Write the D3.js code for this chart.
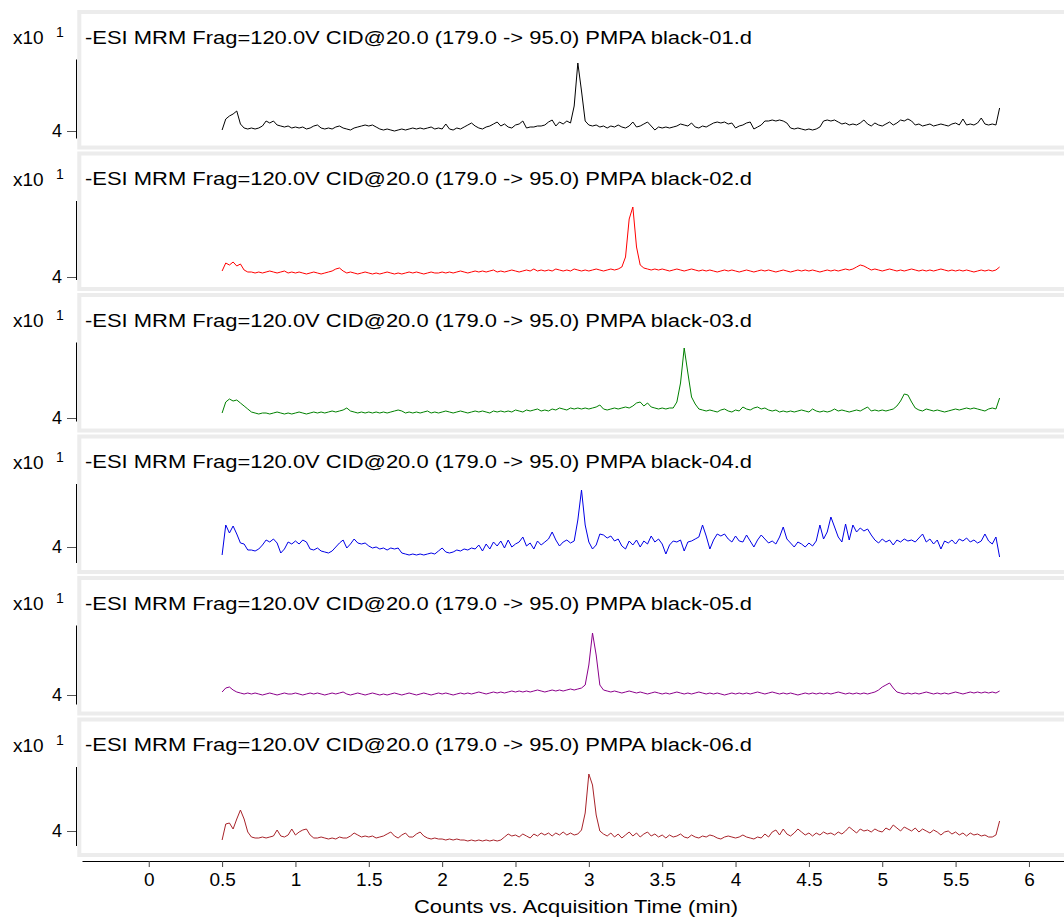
<!DOCTYPE html>
<html><head><meta charset="utf-8">
<script src="https://cdn.jsdelivr.net/npm/d3@7"></script>
<style>
body{margin:0;background:#fff;}
svg{display:block;font-family:"Liberation Sans",Arial,sans-serif;}
</style>
</head><body>
<svg id="chart" width="1064" height="920"></svg>
<script>
// ---------- DATA ----------
const titles = [
  "-ESI MRM Frag=120.0V CID@20.0 (179.0 -> 95.0) PMPA black-01.d",
  "-ESI MRM Frag=120.0V CID@20.0 (179.0 -> 95.0) PMPA black-02.d",
  "-ESI MRM Frag=120.0V CID@20.0 (179.0 -> 95.0) PMPA black-03.d",
  "-ESI MRM Frag=120.0V CID@20.0 (179.0 -> 95.0) PMPA black-04.d",
  "-ESI MRM Frag=120.0V CID@20.0 (179.0 -> 95.0) PMPA black-05.d",
  "-ESI MRM Frag=120.0V CID@20.0 (179.0 -> 95.0) PMPA black-06.d"
];
const timeStart = 0.5;   // min
const timeStep = 0.025;  // min, acquisition sampling
const xTickValues = [0, 0.5, 1, 1.5, 2, 2.5, 3, 3.5, 4, 4.5, 5, 5.5, 6];
const yTickValues = [4];
const yExponent = "1";
const xAxisTitle = "Counts vs. Acquisition Time (min)";

// counts (x10^1), one value per sampling step from 0.5 to 5.8 min
const black01 = [
4.01,4.12,4.15,4.17,4.20,4.07,4.03,4.02,4.03,4.02,
4.03,4.05,4.10,4.08,4.10,4.06,4.05,4.04,4.05,4.03,
4.04,4.03,4.04,4.02,4.03,4.05,4.06,4.03,4.02,4.03,
4.02,4.04,4.05,4.03,4.02,4.01,4.03,4.04,4.05,4.06,
4.05,4.06,4.04,4.02,4.01,4.02,4.01,4.00,4.01,4.02,
4.01,4.02,4.03,4.02,4.03,4.02,4.03,4.04,4.02,4.03,
4.02,4.07,4.02,4.01,4.03,4.02,4.04,4.06,4.08,4.05,
4.03,4.02,4.04,4.05,4.07,4.09,4.05,4.07,4.04,4.03,
4.06,4.07,4.10,4.03,4.04,4.04,4.05,4.05,4.06,4.09,
4.11,4.05,4.09,4.07,4.10,4.08,4.25,4.68,4.40,4.10,
4.06,4.05,4.06,4.04,4.05,4.03,4.05,4.04,4.06,4.04,
4.03,4.05,4.09,4.04,4.05,4.07,4.09,4.05,4.01,4.04,
4.03,4.04,4.03,4.04,4.05,4.07,4.06,4.05,4.08,4.04,
4.03,4.05,4.04,4.06,4.08,4.09,4.08,4.09,4.07,4.08,
4.03,4.05,4.06,4.08,4.09,4.02,4.04,4.06,4.10,4.10,
4.11,4.10,4.11,4.10,4.08,4.03,4.02,4.03,4.02,4.01,
4.02,4.01,4.02,4.04,4.10,4.11,4.10,4.11,4.09,4.07,
4.08,4.06,4.07,4.06,4.08,4.11,4.07,4.05,4.08,4.06,
4.05,4.07,4.09,4.06,4.08,4.11,4.10,4.12,4.10,4.06,
4.07,4.05,4.06,4.07,4.05,4.06,4.07,4.06,4.05,4.07,
4.08,4.06,4.12,4.06,4.07,4.06,4.08,4.13,4.07,4.06,
4.07,4.06,4.23];

const black02 = [
4.06,4.14,4.12,4.15,4.11,4.13,4.07,4.05,4.05,4.04,
4.05,4.04,4.05,4.06,4.05,4.04,4.05,4.06,4.04,4.05,
4.04,4.05,4.04,4.03,4.04,4.05,4.04,4.03,4.04,4.05,
4.06,4.08,4.09,4.06,4.04,4.05,4.04,4.03,4.04,4.05,
4.04,4.03,4.04,4.03,4.04,4.05,4.04,4.03,4.04,4.03,
4.04,4.05,4.04,4.05,4.04,4.03,4.04,4.05,4.04,4.04,
4.05,4.04,4.05,4.04,4.05,4.06,4.05,4.04,4.05,4.06,
4.05,4.06,4.05,4.06,4.07,4.05,4.06,4.05,4.06,4.07,
4.06,4.05,4.06,4.07,4.06,4.08,4.06,4.07,4.06,4.07,
4.06,4.08,4.07,4.06,4.07,4.06,4.08,4.07,4.06,4.07,
4.06,4.07,4.08,4.07,4.06,4.07,4.08,4.07,4.08,4.10,
4.20,4.58,4.70,4.30,4.12,4.09,4.08,4.07,4.08,4.07,
4.08,4.07,4.06,4.07,4.08,4.07,4.06,4.07,4.08,4.07,
4.06,4.07,4.06,4.07,4.06,4.05,4.06,4.07,4.06,4.07,
4.06,4.05,4.06,4.07,4.06,4.05,4.06,4.07,4.06,4.07,
4.06,4.05,4.06,4.07,4.06,4.05,4.06,4.07,4.06,4.07,
4.06,4.07,4.06,4.05,4.06,4.07,4.06,4.07,4.06,4.07,
4.08,4.07,4.08,4.10,4.12,4.11,4.09,4.07,4.08,4.07,
4.06,4.07,4.08,4.07,4.06,4.07,4.06,4.07,4.08,4.07,
4.06,4.07,4.06,4.07,4.06,4.07,4.08,4.07,4.06,4.07,
4.06,4.07,4.06,4.07,4.06,4.05,4.06,4.07,4.06,4.07,
4.06,4.07,4.10];

const black03 = [
4.05,4.16,4.19,4.17,4.18,4.15,4.12,4.09,4.06,4.05,
4.04,4.05,4.05,4.04,4.05,4.06,4.05,4.04,4.05,4.04,
4.05,4.06,4.05,4.04,4.05,4.06,4.05,4.06,4.05,4.06,
4.07,4.06,4.07,4.08,4.10,4.07,4.06,4.05,4.06,4.05,
4.06,4.05,4.06,4.05,4.06,4.05,4.06,4.07,4.08,4.07,
4.05,4.06,4.05,4.06,4.05,4.06,4.07,4.05,4.06,4.05,
4.06,4.07,4.06,4.05,4.06,4.07,4.06,4.05,4.06,4.07,
4.06,4.07,4.06,4.05,4.07,4.06,4.07,4.06,4.07,4.06,
4.08,4.07,4.06,4.08,4.07,4.08,4.09,4.07,4.08,4.07,
4.09,4.08,4.10,4.09,4.08,4.10,4.09,4.10,4.09,4.10,
4.09,4.10,4.11,4.13,4.09,4.08,4.09,4.10,4.09,4.10,
4.11,4.10,4.12,4.15,4.16,4.12,4.15,4.11,4.10,4.09,
4.10,4.09,4.10,4.10,4.16,4.35,4.70,4.45,4.21,4.14,
4.09,4.08,4.07,4.08,4.07,4.06,4.08,4.09,4.07,4.06,
4.08,4.07,4.11,4.09,4.08,4.10,4.11,4.09,4.10,4.08,
4.07,4.08,4.06,4.07,4.06,4.07,4.06,4.07,4.08,4.07,
4.06,4.09,4.07,4.06,4.07,4.06,4.07,4.09,4.07,4.08,
4.07,4.06,4.07,4.08,4.07,4.09,4.11,4.07,4.08,4.07,
4.08,4.07,4.08,4.09,4.12,4.17,4.24,4.23,4.16,4.10,
4.08,4.07,4.09,4.08,4.07,4.08,4.07,4.06,4.07,4.08,
4.09,4.08,4.09,4.10,4.09,4.10,4.09,4.08,4.07,4.09,
4.10,4.09,4.20];

const black04 = [
3.92,4.22,4.14,4.21,4.13,4.04,4.03,3.97,3.97,3.96,
3.98,4.02,4.07,4.05,4.08,4.04,3.94,3.98,4.05,4.03,
4.06,4.03,4.07,4.05,3.98,3.97,3.99,3.96,3.95,3.94,
3.96,4.00,4.04,4.07,3.99,4.03,4.08,4.04,4.03,4.04,
4.01,3.99,4.00,3.98,3.99,3.97,3.99,3.98,3.99,3.94,
3.93,3.92,3.93,3.92,3.93,3.92,3.93,3.94,3.93,3.96,
3.99,3.95,3.94,3.95,3.97,3.96,3.98,3.97,3.99,3.98,
4.02,3.96,4.03,3.98,4.05,4.01,4.06,3.99,4.07,4.00,
4.03,4.05,4.10,4.01,4.04,3.98,4.06,4.02,4.05,4.08,
4.15,4.07,4.01,4.05,4.07,4.04,4.06,4.27,4.57,4.22,
4.05,3.98,4.02,4.13,4.12,4.09,4.11,4.06,4.08,4.01,
3.98,4.06,4.02,4.07,4.00,4.06,4.03,4.11,4.05,4.08,
4.03,3.93,4.02,4.06,4.05,4.07,3.96,4.05,4.06,4.08,
4.10,4.22,4.11,3.98,4.07,4.13,4.11,4.13,4.08,4.05,
4.11,4.06,4.05,4.12,4.06,4.00,4.07,4.12,4.08,4.04,
4.06,4.03,4.10,4.20,4.08,4.04,4.00,4.05,4.03,4.00,
4.04,4.01,4.06,4.22,4.08,4.15,4.30,4.20,4.10,4.05,
4.23,4.07,4.22,4.15,4.19,4.16,4.18,4.12,4.07,4.04,
4.08,4.05,4.07,4.02,4.07,4.05,4.08,4.06,4.07,4.05,
4.09,4.13,4.05,4.08,4.03,4.07,3.98,4.06,4.04,4.07,
4.03,4.08,4.06,4.09,4.05,4.07,4.04,4.06,4.13,4.06,
4.03,4.10,3.90];

const black05 = [
4.03,4.07,4.08,4.05,4.03,4.02,4.01,4.02,4.01,4.02,
4.01,4.00,4.01,4.02,4.01,4.00,4.01,4.02,4.01,4.01,
4.02,4.01,4.00,4.01,4.02,4.01,4.02,4.01,4.00,4.01,
4.02,4.01,4.02,4.03,4.01,4.00,4.01,4.02,4.01,4.00,
4.01,4.02,4.01,4.00,4.01,4.00,4.01,4.02,4.01,4.00,
4.01,4.02,4.01,4.00,4.01,4.02,4.01,4.00,4.01,4.02,
4.01,4.02,4.01,4.00,4.01,4.02,4.01,4.02,4.01,4.02,
4.03,4.02,4.01,4.02,4.03,4.02,4.03,4.02,4.03,4.04,
4.03,4.04,4.03,4.04,4.03,4.04,4.05,4.04,4.03,4.04,
4.05,4.04,4.05,4.04,4.05,4.06,4.05,4.06,4.07,4.10,
4.30,4.62,4.40,4.10,4.05,4.04,4.03,4.04,4.03,4.02,
4.03,4.04,4.03,4.02,4.03,4.02,4.01,4.02,4.03,4.02,
4.01,4.02,4.01,4.02,4.03,4.02,4.01,4.02,4.01,4.02,
4.03,4.02,4.01,4.02,4.01,4.02,4.01,4.00,4.01,4.02,
4.01,4.02,4.01,4.02,4.01,4.02,4.03,4.02,4.01,4.02,
4.03,4.02,4.01,4.02,4.01,4.02,4.01,4.00,4.01,4.02,
4.01,4.02,4.01,4.02,4.01,4.02,4.01,4.02,4.03,4.02,
4.01,4.02,4.01,4.02,4.01,4.02,4.01,4.02,4.03,4.05,
4.08,4.10,4.12,4.07,4.03,4.02,4.01,4.02,4.01,4.02,
4.01,4.02,4.03,4.02,4.01,4.02,4.01,4.02,4.01,4.02,
4.03,4.02,4.01,4.02,4.03,4.02,4.03,4.02,4.03,4.02,
4.03,4.02,4.04];

const black06 = [
3.91,4.07,4.08,4.02,4.12,4.21,4.12,3.99,3.94,3.93,
3.93,3.94,3.93,3.94,3.95,4.01,3.95,3.94,3.96,4.02,
3.96,3.99,4.01,4.02,3.96,3.93,3.93,3.94,3.93,3.92,
3.93,3.92,3.94,3.93,3.93,3.95,3.98,3.96,3.94,3.95,
3.94,3.95,3.93,3.94,3.95,3.97,3.99,3.95,3.93,3.96,
3.98,3.94,3.94,3.97,3.99,3.95,3.93,3.92,3.93,3.92,
3.92,3.91,3.92,3.91,3.92,3.91,3.91,3.90,3.91,3.90,
3.91,3.90,3.91,3.90,3.91,3.90,3.91,3.94,3.97,3.95,
3.96,3.94,3.97,3.95,3.93,3.97,3.95,3.98,3.96,3.98,
3.95,3.98,3.96,3.99,3.96,3.98,3.96,3.97,4.01,4.18,
4.57,4.46,4.16,4.00,3.97,3.95,3.98,3.94,3.97,3.93,
3.96,3.99,3.95,3.98,3.94,3.97,3.99,3.95,3.97,3.94,
3.96,3.93,3.96,3.94,3.95,3.97,3.94,3.93,3.96,3.94,
3.93,3.95,3.94,3.96,3.95,3.93,3.92,3.94,3.95,3.94,
3.93,3.94,3.96,3.94,3.93,3.92,3.94,3.93,3.97,3.94,
3.99,4.01,3.96,4.02,3.97,3.95,3.98,4.02,3.99,3.96,
3.98,3.95,3.98,3.96,3.99,3.97,3.98,3.96,3.99,3.97,
4.00,4.04,4.01,3.98,4.02,4.00,4.01,3.99,4.02,4.00,
3.99,4.03,4.01,4.06,4.03,4.00,4.04,4.02,4.00,4.03,
3.99,4.02,4.00,3.98,4.01,3.99,3.96,3.99,4.00,3.97,
3.99,3.96,3.98,3.95,3.98,3.96,3.97,3.95,3.96,3.94,
3.94,3.96,4.10];

const seriesValues = [black01, black02, black03, black04, black05, black06];
// y-axis value range (x10^1 counts) for each panel
const yDomains = [
  [3.93, 4.72],
  [3.975, 4.765],
  [3.97, 4.76],
  [3.845, 4.635],
  [3.91, 4.70],
  [3.855, 4.645]
];
const colors = ["#000000", "#ff0000", "#008000", "#0000e6", "#8b008b", "#a8232a"];

// ---------- LAYOUT ----------
const svg = d3.select("#chart");
const panelTop0 = 12, panelPitch = 141.5, panelH = 135.5;
const axisX = 76;

const x = d3.scaleLinear().domain([-0.455, 6.239]).range([82, 1064]);

svg.append("rect").attr("width", 1064).attr("height", 920).attr("fill", "#fff");

seriesValues.forEach((vals, i) => {
  const P = panelTop0 + panelPitch * i;
  const g = svg.append("g");

  g.append("rect")
    .attr("x", 79.3).attr("y", P)
    .attr("width", 1000).attr("height", panelH)
    .attr("fill", "#fff").attr("stroke", "#ececec").attr("stroke-width", 4);

  g.append("text")
    .attr("x", 85).attr("y", P + 31.5)
    .attr("font-size", 17.5)
    .attr("textLength", 667).attr("lengthAdjust", "spacingAndGlyphs")
    .attr("fill", "#000")
    .text(titles[i]);

  g.append("text").attr("x", 13).attr("y", P + 32).attr("font-size", 19).attr("fill", "#000").text("x10");
  g.append("text").attr("x", 56).attr("y", P + 25).attr("font-size", 14).attr("fill", "#000").text(yExponent);

  const y = d3.scaleLinear().domain(yDomains[i]).range([P + 126, P + 47]);

  const ya = g.append("g").attr("transform", `translate(${axisX},0)`)
    .call(d3.axisLeft(y).tickValues(yTickValues).tickSize(9).tickSizeOuter(0).tickPadding(5).tickFormat(d3.format("d")));
  ya.select(".domain").attr("stroke", "#000");
  ya.selectAll(".tick line").attr("stroke", "#555");
  ya.selectAll(".tick text").attr("font-size", 18).attr("fill", "#000")
    .attr("font-family", "'Liberation Sans', Arial, sans-serif");

  const pts = vals.map((v, k) => [timeStart + k * timeStep, v]);
  const line = d3.line().x(d => x(d[0])).y(d => y(d[1]));
  g.append("path").datum(pts)
    .attr("d", line)
    .attr("fill", "none")
    .attr("stroke", colors[i])
    .attr("stroke-width", 1)
    .attr("stroke-linejoin", "round");
});

const xa = svg.append("g").attr("transform", "translate(0,861)")
  .call(d3.axisBottom(x).tickValues(xTickValues).tickSize(6).tickSizeOuter(0).tickPadding(6).tickFormat(d => String(d)));
xa.select(".domain").attr("stroke", "#000");
xa.selectAll(".tick line").attr("stroke", "#444");
xa.selectAll(".tick text").attr("font-size", 19).attr("fill", "#000")
  .attr("font-family", "'Liberation Sans', Arial, sans-serif");

svg.append("text")
  .attr("x", 576).attr("y", 913)
  .attr("text-anchor", "middle")
  .attr("font-size", 19)
  .attr("textLength", 324).attr("lengthAdjust", "spacingAndGlyphs")
  .attr("fill", "#000")
  .text(xAxisTitle);
</script>
</body></html>
